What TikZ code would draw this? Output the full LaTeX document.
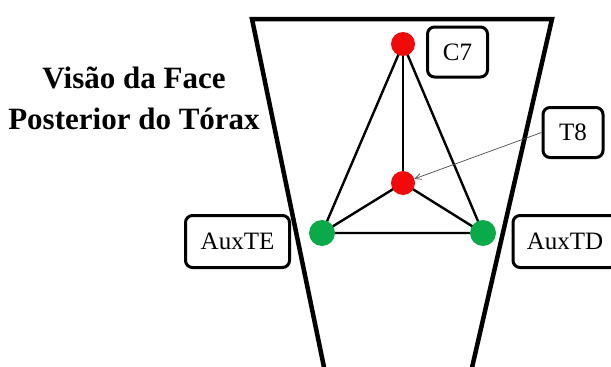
\documentclass[tikz,border=0pt]{standalone}
\usepackage{fontspec}
\setmainfont{Liberation Serif}
\usetikzlibrary{arrows.meta}
\definecolor{ptred}{RGB}{240,10,10}
\definecolor{ptgreen}{RGB}{10,170,75}

\begin{document}
\begin{tikzpicture}[
  x=1pt,y=-1pt,
  every node/.style={font=\fontsize{25}{28}\selectfont},
  dot/.style={circle,inner sep=0pt,minimum size=24pt},
  lbl/.style={draw,line width=3pt,rounded corners=7pt,inner sep=0pt},
  edge/.style={line width=2.4pt},
  pointer/.style={-{Straight Barb[length=6pt,width=6pt]},line width=0.7pt,black!70}
]
  \useasboundingbox (0,0) rectangle (611,367);
  % torso outline
  \draw[line width=4.5pt,line join=miter] (325,372) -- (252,19) -- (552,19) -- (471,372);
  \node[font=\fontsize{31}{41}\selectfont\bfseries,align=center] (title) at (134,98) {Visão da Face\\Posterior do Tórax};
  % sensors
  \coordinate (c7) at (403,44);
  \coordinate (t8) at (403,183);
  \coordinate (auxte) at (322,233);
  \coordinate (auxtd) at (483,233);
  \draw[edge] (c7) -- (auxte) -- (auxtd) -- cycle;
  \draw[edge] (c7) -- (t8);
  \draw[edge] (auxte) -- (t8) -- (auxtd);
  \node[dot,fill=ptred] (c7dot) at (c7) {};
  \node[dot,fill=ptred] (t8dot) at (t8) {};
  \node[dot,fill=ptgreen,minimum size=26pt] (auxtedot) at (auxte) {};
  \node[dot,fill=ptgreen,minimum size=26pt] (auxtddot) at (auxtd) {};
  % labels
  \node[lbl,minimum width=60pt,minimum height=50pt] (c7lbl) at (457.5,52) {C7};
  \node[lbl,minimum width=60pt,minimum height=50pt] (t8lbl) at (573,132.5) {T8};
  \node[lbl,minimum width=104pt,minimum height=52pt] (auxtelbl) at (237.5,241.5) {AuxTE};
  \node[lbl,minimum width=104pt,minimum height=52pt] (auxtdlbl) at (565,241.5) {AuxTD};
  \draw[pointer] (t8lbl.west) -- (t8dot);
\end{tikzpicture}
\end{document}
